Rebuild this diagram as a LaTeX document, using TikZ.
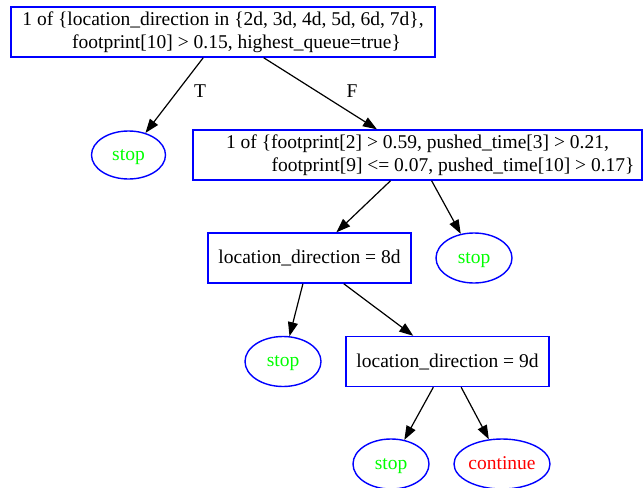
\documentclass[tikz,border=0pt]{standalone}
\usepackage{fontspec}
\setmainfont{Liberation Serif}
\usetikzlibrary{arrows.meta,shapes.geometric}
\definecolor{gvblue}{RGB}{0,0,255}
\definecolor{gvgreen}{RGB}{0,255,0}
\definecolor{gvred}{RGB}{255,0,0}
\tikzset{
    splitbox/.style={draw=gvblue, text=black, line width=1.4pt, rectangle, inner sep=0pt, minimum height=50pt, align=center},
    leaf/.style={draw=gvblue, line width=1.4pt, ellipse, inner sep=0pt, minimum width=76pt, minimum height=50pt, text height=13.5pt, text depth=3.5pt},
    branch/.style={-{Triangle[length=14pt,width=10pt]}, line width=1.2pt},
}

\begin{document}
\begin{tikzpicture}[x=1pt, y=-1pt, font=\fontsize{19.5pt}{22.5pt}\selectfont]
    \useasboundingbox (0,0) rectangle (644,487);
    \node[splitbox, minimum width=424pt] (cond1) at (223,32) {1 of \{location\_direction in \{2d, 3d, 4d, 5d, 6d, 7d\},\\\hspace*{27pt}footprint[10] > 0.15, highest\_queue=true\}};
    \node[leaf, minimum width=74pt, minimum height=48pt, text=gvgreen] (stop1) at (128.5,155) {stop};
    \node[splitbox, minimum width=449pt] (cond2) at (417.5,155) {1 of \{footprint[2] > 0.59, pushed\_time[3] > 0.21,\\\hspace*{71pt}footprint[9] <= 0.07, pushed\_time[10] > 0.17\}};
    \node[splitbox, minimum width=203pt] (cond3) at (309.5,258) {location\_direction = 8d};
    \node[leaf, text=gvgreen] (stop2) at (474,258) {stop};
    \node[leaf, text=gvgreen] (stop3) at (283,361.5) {stop};
    \node[splitbox, minimum width=203pt] (cond4) at (447.5,361.5) {location\_direction = 9d};
    \node[leaf, text=gvgreen] (stop4) at (391,464) {stop};
    \node[leaf, minimum width=96pt, text=gvred] (go) at (502,464) {continue};
    % T / F labels
    \node (lblT) at (200,91) {T};
    \node (lblF) at (352,91) {F};
    \draw[branch] (cond1) -- (stop1);
    \draw[branch] (cond1) -- (cond2);
    \draw[branch] (cond2) -- (cond3);
    \draw[branch] (cond2) -- (stop2);
    \draw[branch] (cond3) -- (stop3);
    \draw[branch] (cond3) -- (cond4);
    \draw[branch] (cond4) -- (stop4);
    \draw[branch] (cond4) -- (go);
\end{tikzpicture}
\end{document}
